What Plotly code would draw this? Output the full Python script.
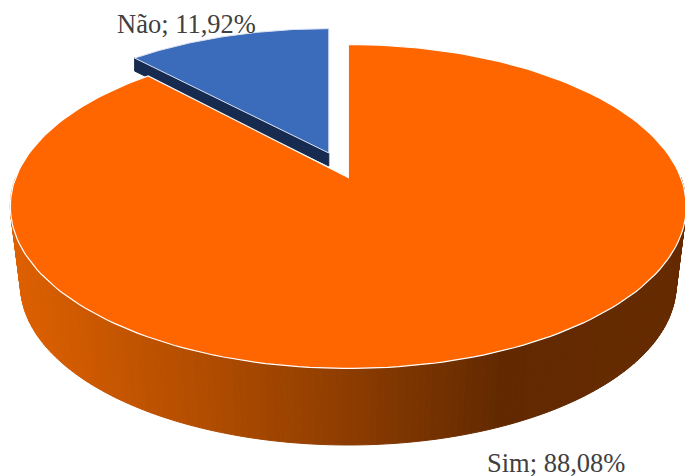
import math
import plotly.graph_objects as go

categories = ["Sim", "Não"]
values = [88.08, 11.92]
slice_colors = ["#FF6600", "#3B6BBB"]
blue_side_color = "#172B50"
edge_stops_x = [14, 200, 350, 500, 690]
edge_stops_rgb = [(222, 96, 0), (178, 77, 0), (140, 60, 0), (98, 41, 0), (102, 42, 0)]

W, H = 685, 476
K = 0.179
A, B = 332.5, 156.8


def proj(theta, cx, cy, sx=1.0, sy=1.0):
    d = 1 + K * math.cos(theta)
    return (cx + sx * A * math.sin(theta) / d, cy - sy * B * math.cos(theta) / d)


def ramp(x):
    if x <= edge_stops_x[0]:
        return edge_stops_rgb[0]
    for i in range(len(edge_stops_x) - 1):
        if x <= edge_stops_x[i + 1]:
            t = (x - edge_stops_x[i]) / (edge_stops_x[i + 1] - edge_stops_x[i])
            return tuple(round(a + (b - a) * t) for a, b in zip(edge_stops_rgb[i], edge_stops_rgb[i + 1]))
    return edge_stops_rgb[-1]


def poly(pts, fill, line=None, lw=1.0):
    xs = [p[0] for p in pts] + [pts[0][0]]
    ys = [p[1] for p in pts] + [pts[0][1]]
    return go.Scatter(x=xs, y=ys, mode="lines", fill="toself", fillcolor=fill,
                      line=dict(color=line or fill, width=lw), hoverinfo="skip", showlegend=False)


fig = go.Figure()

# side wall of the large slice
TOP = (348.3, 177.5, 1.0, 1.0)
BOT = (348.3, 256.3, 0.97, 0.988)
n = 180
for i in range(n):
    t0 = math.radians(90 + 180 * i / n)
    t1 = math.radians(90 + 180 * (i + 1) / n)
    a, b = proj(t0, *TOP), proj(t1, *TOP)
    c, d = proj(t1, *BOT), proj(t0, *BOT)
    r = ramp((a[0] + b[0] + c[0] + d[0]) / 4)
    col = "rgb(%d,%d,%d)" % r
    fig.add_trace(poly([a, b, c, d], col))

total = sum(values)
split = 2 * math.pi * values[0] / total

# exploded small slice: wall, then top
BL = (328.8, 153.0, 0.97, 0.935)
left_pt = proj(split, *BL)
apex = (BL[0], BL[1])
depth = 13
fig.add_trace(poly([left_pt, apex, (apex[0], apex[1] + depth), (left_pt[0], left_pt[1] + depth)], blue_side_color))

# large slice top
steps = 200
pts = [proj(split * j / steps, *TOP) for j in range(steps + 1)] + [(TOP[0], TOP[1])]
fig.add_trace(poly(pts, slice_colors[0], "#FFFFFF", 1.2))

# small slice top
pts = [proj(split + (2 * math.pi - split) * j / 60, *BL) for j in range(61)] + [apex]
fig.add_trace(poly(pts, slice_colors[1], "#DCE4F2", 1.0))


def label(i):
    return f"{categories[i]}; {values[i]:.2f}%".replace(".", ",")


fig.add_annotation(x=556, y=463, text=label(0), showarrow=False, xanchor="center", yanchor="middle",
                   font=dict(family="Liberation Serif", size=26.5, color="#404040"))
fig.add_annotation(x=186.5, y=24, text=label(1), showarrow=False, xanchor="center", yanchor="middle",
                   font=dict(family="Liberation Serif", size=26.5, color="#404040"))

fig.update_layout(
    width=W, height=H, margin=dict(l=0, r=0, t=0, b=0),
    paper_bgcolor="white", plot_bgcolor="white", showlegend=False,
    xaxis=dict(range=[0, W], visible=False, fixedrange=True),
    yaxis=dict(range=[H, 0], visible=False, fixedrange=True),
)
fig.write_html("out.html", config={"displayModeBar": False},
               post_script="document.body.style.margin='0';document.documentElement.style.overflow='hidden';")
